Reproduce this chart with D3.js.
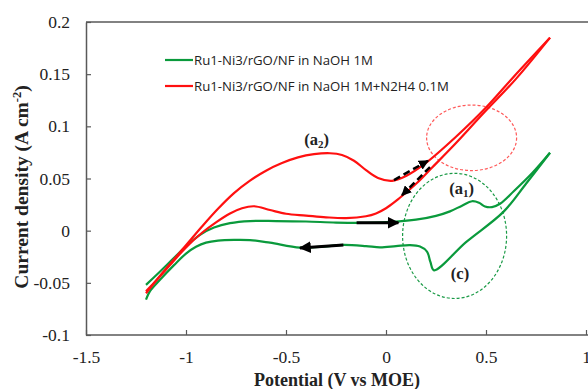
<!DOCTYPE html>
<html>
<head>
<meta charset="utf-8">
<script src="https://cdn.jsdelivr.net/npm/d3@7"></script>
<style>
  html, body { margin: 0; padding: 0; background: #fff; }
  svg { display: block; }
</style>
</head>
<body>
<svg id="chart" width="588" height="389"></svg>
<script>
// ---- data ----
const xTicks = [-1.5, -1, -0.5, 0, 0.5, 1];
const xTickLabels = ["-1.5", "-1", "-0.5", "0", "0.5", "1"];
const yTicks = [-0.1, -0.05, 0, 0.05, 0.1, 0.15, 0.2];
const yTickLabels = ["-0.1", "-0.05", "0", "0.05", "0.1", "0.15", "0.2"];

const seriesNames = ["Ru1-Ni3/rGO/NF in NaOH 1M", "Ru1-Ni3/rGO/NF in NaOH 1M+N2H4 0.1M"];

// NaOH 1M : forward (anodic) and reverse scans [potential, current density]
const naohForward = [
  [-1.2,-0.052],[-1.14,-0.041],[-1.07,-0.028],[-1.0,-0.015],[-0.93,-0.004],[-0.86,0.003],
  [-0.78,0.0072],[-0.68,0.0092],[-0.55,0.0092],[-0.4,0.0088],[-0.25,0.0078],[-0.1,0.0076],
  [0.05,0.0086],[0.15,0.0105],[0.25,0.0142],[0.32,0.0185],[0.38,0.024],[0.43,0.0282],
  [0.465,0.0268],[0.495,0.0232],[0.53,0.0226],[0.57,0.0258],[0.64,0.038],[0.73,0.055],[0.82,0.0747]
];
const naohReverse = [
  [0.82,0.0747],[0.7,0.045],[0.587,0.018],[0.4,-0.011],[0.24,-0.038],[0.222,-0.03],
  [0.205,-0.02],[0.17,-0.0152],[0.12,-0.0138],[0.05,-0.0148],[-0.03,-0.016],[-0.1,-0.0148],
  [-0.213,-0.0137],[-0.3,-0.015],[-0.43,-0.0162],[-0.58,-0.0115],[-0.68,-0.009],[-0.76,-0.0088],
  [-0.84,-0.0095],[-0.9,-0.0115],[-0.95,-0.0155],[-1.0,-0.022],[-1.06,-0.033],[-1.13,-0.047],
  [-1.18,-0.058],[-1.2,-0.066]
];
// NaOH 1M + N2H4 0.1M
const hydrazineForward = [
  [-1.2,-0.06],[-1.15,-0.048],[-1.08,-0.032],[-1.0,-0.014],[-0.92,0.004],[-0.84,0.021],
  [-0.76,0.036],[-0.68,0.048],[-0.6,0.0575],[-0.52,0.0648],[-0.44,0.0702],[-0.36,0.0733],
  [-0.28,0.0742],[-0.22,0.0725],[-0.16,0.067],[-0.1,0.058],[-0.04,0.0505],[0.03,0.0478],
  [0.1,0.0525],[0.2,0.065],[0.35,0.09],[0.5,0.118],[0.65,0.15],[0.82,0.185]
];
const hydrazineReverse = [
  [0.82,0.185],[0.65,0.1455],[0.487,0.1125],[0.35,0.084],[0.227,0.0598],[0.153,0.0454],
  [0.1,0.0365],[0.05,0.0285],[0.0,0.0215],[-0.05,0.0165],[-0.1,0.0138],[-0.2,0.012],
  [-0.3,0.0128],[-0.4,0.0145],[-0.5,0.0162],[-0.58,0.0198],[-0.66,0.0234],[-0.72,0.0215],
  [-0.78,0.0165],[-0.85,0.008],[-0.92,-0.002],[-1.0,-0.016],[-1.08,-0.033],[-1.15,-0.048],
  [-1.2,-0.058]
];

// scan-direction arrows [from, to] in data units
const solidArrows = [
  [[-0.147,0.0076],[0.062,0.0076]],
  [[-0.213,-0.0137],[-0.43,-0.0165]]
];
const dashedArrows = [
  [[0.04,0.0485],[0.21,0.067]],
  [[0.22,0.061],[0.08,0.034]]
];
// highlight ellipses [cx, cy, rx, ry] in data units
const ellipses = [
  {c:[0.428,0.089], r:[0.225,0.0314], color:"#ff5a5a"},
  {c:[0.343,-0.005], r:[0.26,0.06], color:"#1a9a46"}
];
// peak labels
const peakLabels = [
  {pos:[-0.347,0.086], main:"a", sub:"2"},
  {pos:[0.378,0.039], main:"a", sub:"1"},
  {pos:[0.37,-0.0425], main:"c", sub:""}
];

// ---- drawing ----
const GREEN = "#0a9a3c", RED = "#ff1010", AXIS = "#595959";
const svg = d3.select("#chart");
const x = d3.scaleLinear().domain([-1.5, 1]).range([86, 586]);
const y = d3.scaleLinear().domain([-0.1, 0.2]).range([335, 22]);

const defs = svg.append("defs");
defs.append("marker").attr("id","ah").attr("viewBox","0 0 10 10")
  .attr("refX",9).attr("refY",5).attr("markerWidth",4).attr("markerHeight",4)
  .attr("markerUnits","strokeWidth").attr("orient","auto")
  .append("path").attr("d","M0,0 L10,5 L0,10 Z").attr("fill","#000");

// frame: top border
svg.append("line").attr("x1", x(-1.5)).attr("x2", 588).attr("y1", y(0.2)).attr("y2", y(0.2))
  .attr("stroke", AXIS).attr("stroke-width", 1.5);

const xAxis = d3.axisBottom(x).tickValues(xTicks).tickFormat((d,i)=>xTickLabels[i])
  .tickSizeInner(-5).tickSizeOuter(0).tickPadding(16);
const gx = svg.append("g").attr("transform", `translate(0,${y(-0.1)})`).call(xAxis);
gx.select(".domain").attr("d", `M${x(-1.5)},0H588`);

const yAxis = d3.axisLeft(y).tickValues(yTicks).tickFormat((d,i)=>yTickLabels[i])
  .tickSizeInner(-5).tickSizeOuter(0).tickPadding(16);
const gy = svg.append("g").attr("transform", `translate(${x(-1.5)},0)`).call(yAxis);

[gx, gy].forEach(g => {
  g.select(".domain").attr("stroke", AXIS).attr("stroke-width", 1.5);
  g.selectAll(".tick line").attr("stroke", AXIS).attr("stroke-width", 1.2);
  g.selectAll(".tick text").attr("fill", "#222").attr("font-family", "'Liberation Serif', serif").attr("font-size", 17.5);
});

// ellipses
svg.selectAll("ellipse.hl").data(ellipses).join("ellipse").attr("class","hl")
  .attr("cx", d=>x(d.c[0])).attr("cy", d=>y(d.c[1]))
  .attr("rx", d=>x(d.r[0]) - x(0)).attr("ry", d=>y(0) - y(d.r[1]))
  .attr("fill","none").attr("stroke", d=>d.color).attr("stroke-width",1.2).attr("stroke-dasharray","3,2");

// curves
const line = d3.line().x(d=>x(d[0])).y(d=>y(d[1])).curve(d3.curveCatmullRom.alpha(0.5));
const curves = [
  {data: naohForward, color: GREEN},
  {data: naohReverse, color: GREEN},
  {data: hydrazineForward, color: RED},
  {data: hydrazineReverse, color: RED}
];
svg.selectAll("path.cv").data(curves).join("path").attr("class","cv")
  .attr("d", d=>line(d.data)).attr("fill","none").attr("stroke", d=>d.color)
  .attr("stroke-width", 2.2).attr("stroke-linejoin","round");

// arrows
svg.selectAll("line.sarrow").data(solidArrows).join("line").attr("class","sarrow")
  .attr("x1", d=>x(d[0][0])).attr("y1", d=>y(d[0][1])).attr("x2", d=>x(d[1][0])).attr("y2", d=>y(d[1][1]))
  .attr("stroke","#000").attr("stroke-width",3).attr("marker-end","url(#ah)");
svg.selectAll("line.darrow").data(dashedArrows).join("line").attr("class","darrow")
  .attr("x1", d=>x(d[0][0])).attr("y1", d=>y(d[0][1])).attr("x2", d=>x(d[1][0])).attr("y2", d=>y(d[1][1]))
  .attr("stroke","#000").attr("stroke-width",2.5).attr("stroke-dasharray","7,4").attr("marker-end","url(#ah)");

// peak labels
const lab = svg.selectAll("text.peak").data(peakLabels).join("text").attr("class","peak")
  .attr("x", d=>x(d.pos[0])).attr("y", d=>y(d.pos[1]))
  .attr("text-anchor","middle").attr("dominant-baseline","middle")
  .attr("font-family","'Liberation Serif', serif").attr("font-weight","bold").attr("font-size",16.5).attr("fill","#222");
lab.each(function(d){
  const t = d3.select(this);
  t.append("tspan").text("(" + d.main);
  if (d.sub) t.append("tspan").attr("font-size",11).attr("dy",4).text(d.sub);
  t.append("tspan").attr("dy", d.sub ? -4 : 0).text(")");
});

// legend
const legend = svg.append("g");
[GREEN, RED].forEach((c,i)=>{
  const yy = 60 + i*26;
  legend.append("line").attr("x1",165).attr("x2",193).attr("y1",yy).attr("y2",yy)
    .attr("stroke",c).attr("stroke-width",2.2);
  legend.append("text").attr("x",194).attr("y",yy).attr("dy","0.35em")
    .attr("font-family","'Open Sans', sans-serif").attr("font-size",13.2).attr("fill","#222")
    .text(seriesNames[i]);
});

// axis titles
svg.append("text").attr("x", 337).attr("y", 386).attr("text-anchor","middle")
  .attr("font-family","'Liberation Serif', serif").attr("font-weight","bold").attr("font-size",18).attr("fill","#222")
  .text("Potential (V vs MOE)");
const yt = svg.append("text").attr("transform","translate(28,187) rotate(-90)").attr("text-anchor","middle")
  .attr("font-family","'Liberation Serif', serif").attr("font-weight","bold").attr("font-size",19.5).attr("fill","#222");
yt.append("tspan").text("Current density (A cm");
yt.append("tspan").attr("font-size",12.5).attr("dy",-7).text("-2");
yt.append("tspan").attr("dy",7).text(")");
</script>
</body>
</html>
